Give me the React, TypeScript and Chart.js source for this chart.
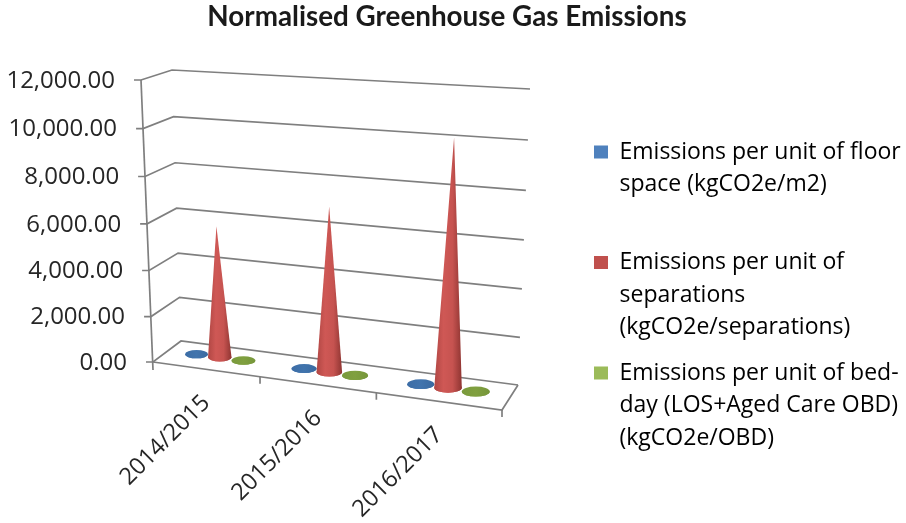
import React, { useEffect, useRef } from "react";
import { Chart, registerables } from "chart.js";

Chart.register(...registerables);

const categories = ["2014/2015", "2015/2016", "2016/2017"];
const floorSpace = [115, 112, 118];
const separations = [5740, 7020, 10200];
const bedDay = [45, 44, 46];
const yMax = 12000;
const yStep = 2000;
const titleText = "Normalised Greenhouse Gas Emissions";
const seriesNames = [
  "Emissions per unit of floor space (kgCO2e/m2)",
  "Emissions per unit of separations (kgCO2e/separations)",
  "Emissions per unit of bed-day (LOS+Aged Care OBD) (kgCO2e/OBD)",
];
const legendLines = [
  ["Emissions per unit of floor", "space (kgCO2e/m2)", ""],
  ["Emissions per unit of", "separations", "(kgCO2e/separations)"],
  ["Emissions per unit of bed-", "day (LOS+Aged Care OBD)", "(kgCO2e/OBD)"],
];
const legendColors = ["#4f81bd", "#c0504d", "#9bbb59"];
const coneStops = [
  ["#3c6da6", "#4174ad", "#3a6aa0"],
  ["#b04744", "#cf5855", "#c65350", "#8f3532"],
  ["#7a9a3c", "#80a040", "#76963a"],
];

const FONT = "'Open Sans', sans-serif";
const TITLE_FONT = "Lato, sans-serif";
const TEXT = "#262626";
const GRID = "#7f7f7f";

// The 3D box of the plot: eight projected corners
const box = {
  f0: [153, 362], f1: [502, 410], b0: [181, 341], b1: [518, 385],
  tf0: [141, 80], tf1: [512, 103], tb0: [172, 70], tb1: [530, 89],
};
const CONE_DEPTH = 0.55;
const lerp = (a: number, b: number, t: number) => a + (b - a) * t;
const warpU = (u: number) => u * (0.88 + 0.12 * u);
const warpH = (h: number) => h * (0.96 + 0.04 * h);
function project(u0: number, d: number, h0: number) {
  const u = warpU(u0);
  const h = warpH(h0);
  const at = (i: number) => {
    const bottom = lerp(lerp(box.f0[i], box.f1[i], u), lerp(box.b0[i], box.b1[i], u), d);
    const top = lerp(lerp(box.tf0[i], box.tf1[i], u), lerp(box.tb0[i], box.tb1[i], u), d);
    return lerp(bottom, top, h);
  };
  return { x: at(0), y: at(1) };
}

const scene = {
  id: "scene",
  afterLayout(chart: any) {
    const l = chart.legend;
    if (l) {
      const h = l.height;
      l.left = 581; l.right = 906; l.top = 127.5; l.bottom = 127.5 + h;
    }
    const t = chart.titleBlock;
    if (t) { t.left = 0; t.right = 894; }
  },
  beforeDatasetsDraw(chart: any) {
    const { ctx, chartArea: area, scales } = chart;
    const xs = scales.x, ys = scales.y;
    const toU = (px: number) => (px - area.left) / (area.right - area.left);
    const toH = (px: number) => (area.bottom - px) / (area.bottom - area.top);
    ctx.save();
    ctx.strokeStyle = GRID;
    ctx.lineWidth = 1.7;
    const seg = (pts: { x: number; y: number }[]) => {
      ctx.beginPath();
      pts.forEach((p, i) => (i ? ctx.lineTo(p.x, p.y) : ctx.moveTo(p.x, p.y)));
      ctx.stroke();
    };
    // value axis, gridlines and labels
    ys.ticks.forEach((tick: any) => {
      const h = toH(ys.getPixelForValue(tick.value));
      const front = project(0, 0, h);
      seg([{ x: front.x - 7, y: front.y }, front, project(0, 1, h), project(1, 1, h)]);
      ctx.fillStyle = TEXT;
      ctx.font = `24px ${FONT}`;
      ctx.textAlign = "right";
      ctx.textBaseline = "middle";
      ctx.fillText(tick.label, front.x - 26, front.y + 1);
    });
    seg([project(0, 0, 1), { x: project(0, 0, 0).x, y: project(0, 0, 0).y + 8 }]);
    // floor
    seg([project(0, 0, 0), project(1, 0, 0), project(1, 1, 0)]);
    // category ticks and labels
    const n = categories.length;
    for (let i = 1; i <= n; i++) {
      const p = project(i / n, 0, 0);
      seg([p, { x: p.x, y: p.y + 7 }]);
    }
    xs.ticks.forEach((tick: any, i: number) => {
      const p = project(toU(xs.getPixelForTick(i)), 0, 0);
      ctx.save();
      ctx.translate(p.x + 1, p.y + 30);
      ctx.rotate(-Math.PI / 4);
      ctx.fillStyle = TEXT;
      ctx.font = `23.5px ${FONT}`;
      ctx.textAlign = "right";
      ctx.textBaseline = "middle";
      ctx.fillText(tick.label, 0, 0);
      ctx.restore();
    });
    // cones
    for (let c = 0; c < n; c++) {
      chart.data.datasets.forEach((_d: any, s: number) => {
        const bar = chart.getDatasetMeta(s).data[c];
        const { x, y, width } = bar.getProps(["x", "y", "width"], true);
        const u = toU(x);
        const base = project(u, CONE_DEPTH, 0);
        const apex = project(u, CONE_DEPTH, toH(y));
        const du = width / 2 / (area.right - area.left);
        const l = project(u - du, CONE_DEPTH, 0);
        const r = project(u + du, CONE_DEPTH, 0);
        const rx = (r.x - l.x) / 2;
        const ry = rx * 0.36;
        const g = ctx.createLinearGradient(base.x - rx, 0, base.x + rx, 0);
        coneStops[s].forEach((col, k, all) => g.addColorStop(k / (all.length - 1), col));
        ctx.fillStyle = g;
        ctx.beginPath();
        ctx.moveTo(apex.x, apex.y);
        ctx.lineTo(base.x + rx, base.y);
        ctx.ellipse(base.x, base.y, rx, ry, 0, 0, Math.PI);
        ctx.lineTo(base.x - rx, base.y);
        ctx.closePath();
        ctx.fill();
        ctx.beginPath();
        ctx.ellipse(base.x, base.y, rx, ry, 0, 0, Math.PI * 2);
        ctx.fill();
      });
    }
    ctx.restore();
    return false;
  },
};

export default function App() {
  const ref = useRef<HTMLCanvasElement>(null);
  useEffect(() => {
    document.body.style.margin = "0";
    document.body.style.background = "#fff";
    const data = [floorSpace, separations, bedDay];
    const chart = new Chart(ref.current as HTMLCanvasElement, {
      type: "bar",
      data: {
        labels: categories,
        datasets: data.map((values, i) => ({
          label: seriesNames[i],
          data: values,
          backgroundColor: legendColors[i],
          categoryPercentage: 0.67,
          barPercentage: 1,
        })),
      },
      plugins: [scene],
      options: {
        animation: false,
        responsive: false,
        maintainAspectRatio: false,
        layout: { padding: { left: 153, right: 104, top: 0, bottom: 161 } },
        scales: {
          x: { grid: { display: false }, border: { display: false }, ticks: { display: false } },
          y: {
            min: 0,
            max: yMax,
            grid: { display: false },
            border: { display: false },
            ticks: {
              display: false,
              stepSize: yStep,
              callback: (v: any) =>
                Number(v).toLocaleString("en-US", { minimumFractionDigits: 2, maximumFractionDigits: 2 }),
            },
          },
        },
        plugins: {
          tooltip: { enabled: false },
          title: {
            display: true,
            text: titleText,
            color: "#1a1a1a",
            font: { family: TITLE_FONT, size: 27.8, weight: "bold", lineHeight: 1.2 },
            padding: { top: 0, bottom: 46.6 },
          },
          legend: {
            display: true,
            position: "right",
            align: "start",
            maxWidth: 300,
            labels: {
              boxWidth: 14,
              boxHeight: 13,
              padding: 13,
              color: TEXT,
              font: { family: FONT, size: 23, lineHeight: 1.413 },
              generateLabels: () =>
                legendLines.map((text, i) => ({
                  text,
                  fillStyle: legendColors[i],
                  strokeStyle: legendColors[i],
                  lineWidth: 0,
                  hidden: false,
                  datasetIndex: i,
                })) as any,
            },
          },
        },
      },
    });
    return () => chart.destroy();
  }, []);
  return <canvas ref={ref} width={906} height={523} style={{ display: "block", filter: "blur(0.5px)" }} />;
}
